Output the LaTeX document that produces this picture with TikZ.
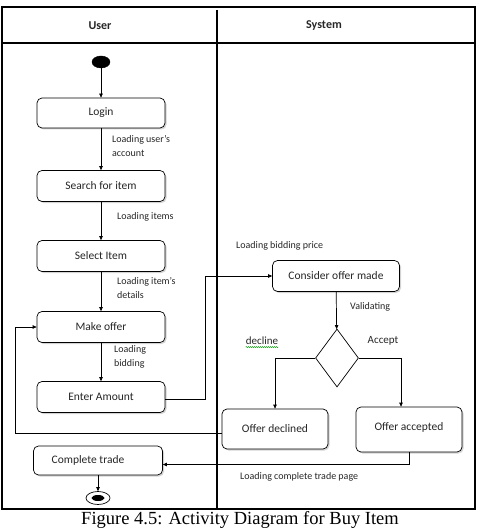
\documentclass[tikz,border=0pt]{standalone}
\usepackage{fontspec}
\setmainfont{Carlito}
\newfontfamily\capfont{Liberation Serif}
\usetikzlibrary{arrows.meta,shadows,shapes.geometric,decorations.pathmorphing}
\begin{document}
\begin{tikzpicture}[x=1pt,y=-1pt,
  box/.style={draw, line width=0.7pt, rounded corners=5pt, fill=white,
    drop shadow={shadow xshift=1.5pt,shadow yshift=-1.5pt,opacity=0.35},
    font=\fontsize{11.5}{13}\selectfont, text=black!85, inner sep=0pt},
  lbl/.style={font=\fontsize{10}{14}\selectfont, text=black!85, align=left, anchor=west, inner sep=0pt},
  arr/.style={-{Triangle[length=4pt,width=3.5pt]}, line width=0.7pt},
  frame/.style={line width=1.2pt}]
\useasboundingbox (0,0) rectangle (485,529);
% swimlane frame
\draw[frame] (2,7) rectangle (475,509);
\draw[frame] (2,43) -- (475,43);
\draw[frame] (217,10) -- (217,509);
\node[font=\bfseries\fontsize{12}{14}\selectfont, text=black!85] (hu) at (100,26) {User};
\node[font=\bfseries\fontsize{12}{14}\selectfont, text=black!85] (hs) at (324,26) {System};
% nodes
\node[draw, fill=black, ellipse, minimum width=18pt, minimum height=12pt, inner sep=0pt] (start) at (101,62) {};
\node[box, minimum width=128pt, minimum height=30pt] (login) at (101,113) {Login};
\node[box, minimum width=128pt, minimum height=31pt] (search) at (101,186) {Search for item};
\node[box, minimum width=128pt, minimum height=31pt] (select) at (101,256) {Select Item};
\node[box, minimum width=128pt, minimum height=31pt] (make) at (101,327) {Make offer};
\node[box, minimum width=128pt, minimum height=31pt] (enter) at (101,397) {Enter Amount};
\node[box, minimum width=127pt, minimum height=31pt] (consider) at (336,276) {Consider offer made};
\node[draw, line width=0.7pt, diamond, minimum width=43pt, minimum height=58pt, inner sep=0pt] (dia) at (337,358) {};
\node[box, minimum width=106pt, minimum height=40pt] (declined) at (275,429) {Offer declined};
\node[box, minimum width=106pt, minimum height=45pt] (accepted) at (409,429.5) {\raisebox{5pt}{Offer accepted}};
\node[box, minimum width=129pt, minimum height=29pt] (complete) at (98,460.5) {\hspace*{-20pt}Complete trade};
\node[draw, line width=0.7pt, ellipse, minimum width=24pt, minimum height=13pt, inner sep=0pt] (end) at (98,498) {};
\node[fill=black, ellipse, minimum width=13pt, minimum height=6pt, inner sep=0pt] (endin) at (98,498) {};
% connectors
\draw[arr] (start) -- (login);
\draw[arr] (login) -- (search);
\draw[arr] (search) -- (select);
\draw[arr] (select) -- (make);
\draw[arr] (make) -- (enter);
\draw[arr] ([yshift=-2pt]enter.east) -- ++(40,0) |- (consider.west);
\draw[arr] (consider) -- (dia);
\draw[arr] (dia.west) -| (declined.north);
\draw[arr] (dia.east) -| ([xshift=-8pt]accepted.north);
\draw[arr] ([yshift=-4pt]declined.west) -- ++(-206,0) |- (make.west);
\draw[arr] (accepted.south) |- ([yshift=-4pt]complete.east);
\draw[arr] (complete) -- (end);
% labels
\node[lbl] (l1) at (112,146) {Loading user's\\account};
\node[lbl] (l2) at (117,217) {Loading items};
\node[lbl] (l3) at (117,288) {Loading item's\\details};
\node[lbl] (l4) at (114,357) {Loading\\bidding};
\node[lbl] (l5) at (236,246) {Loading bidding price};
\node[lbl] (l6) at (350,307) {Validating};
\node[font=\fontsize{11}{13}\selectfont, text=black!85, inner sep=0pt] (l7) at (262,341) {decline};
\draw[green!60!black, line width=0.4pt, decorate, decoration={snake, amplitude=0.6pt, segment length=2pt}] ([yshift=-2pt]l7.south west) -- ([yshift=-2pt]l7.south east);
\node[font=\fontsize{11}{13}\selectfont, text=black!85, inner sep=0pt] (l8) at (383,341) {Accept};
\node[lbl] (l9) at (240,477) {Loading complete trade page};
% caption
\node[font=\capfont\fontsize{18.5}{20}\selectfont, inner sep=0pt] (cap) at (240,520) {Figure 4.5: Activity Diagram for Buy Item};
\end{tikzpicture}
\end{document}
